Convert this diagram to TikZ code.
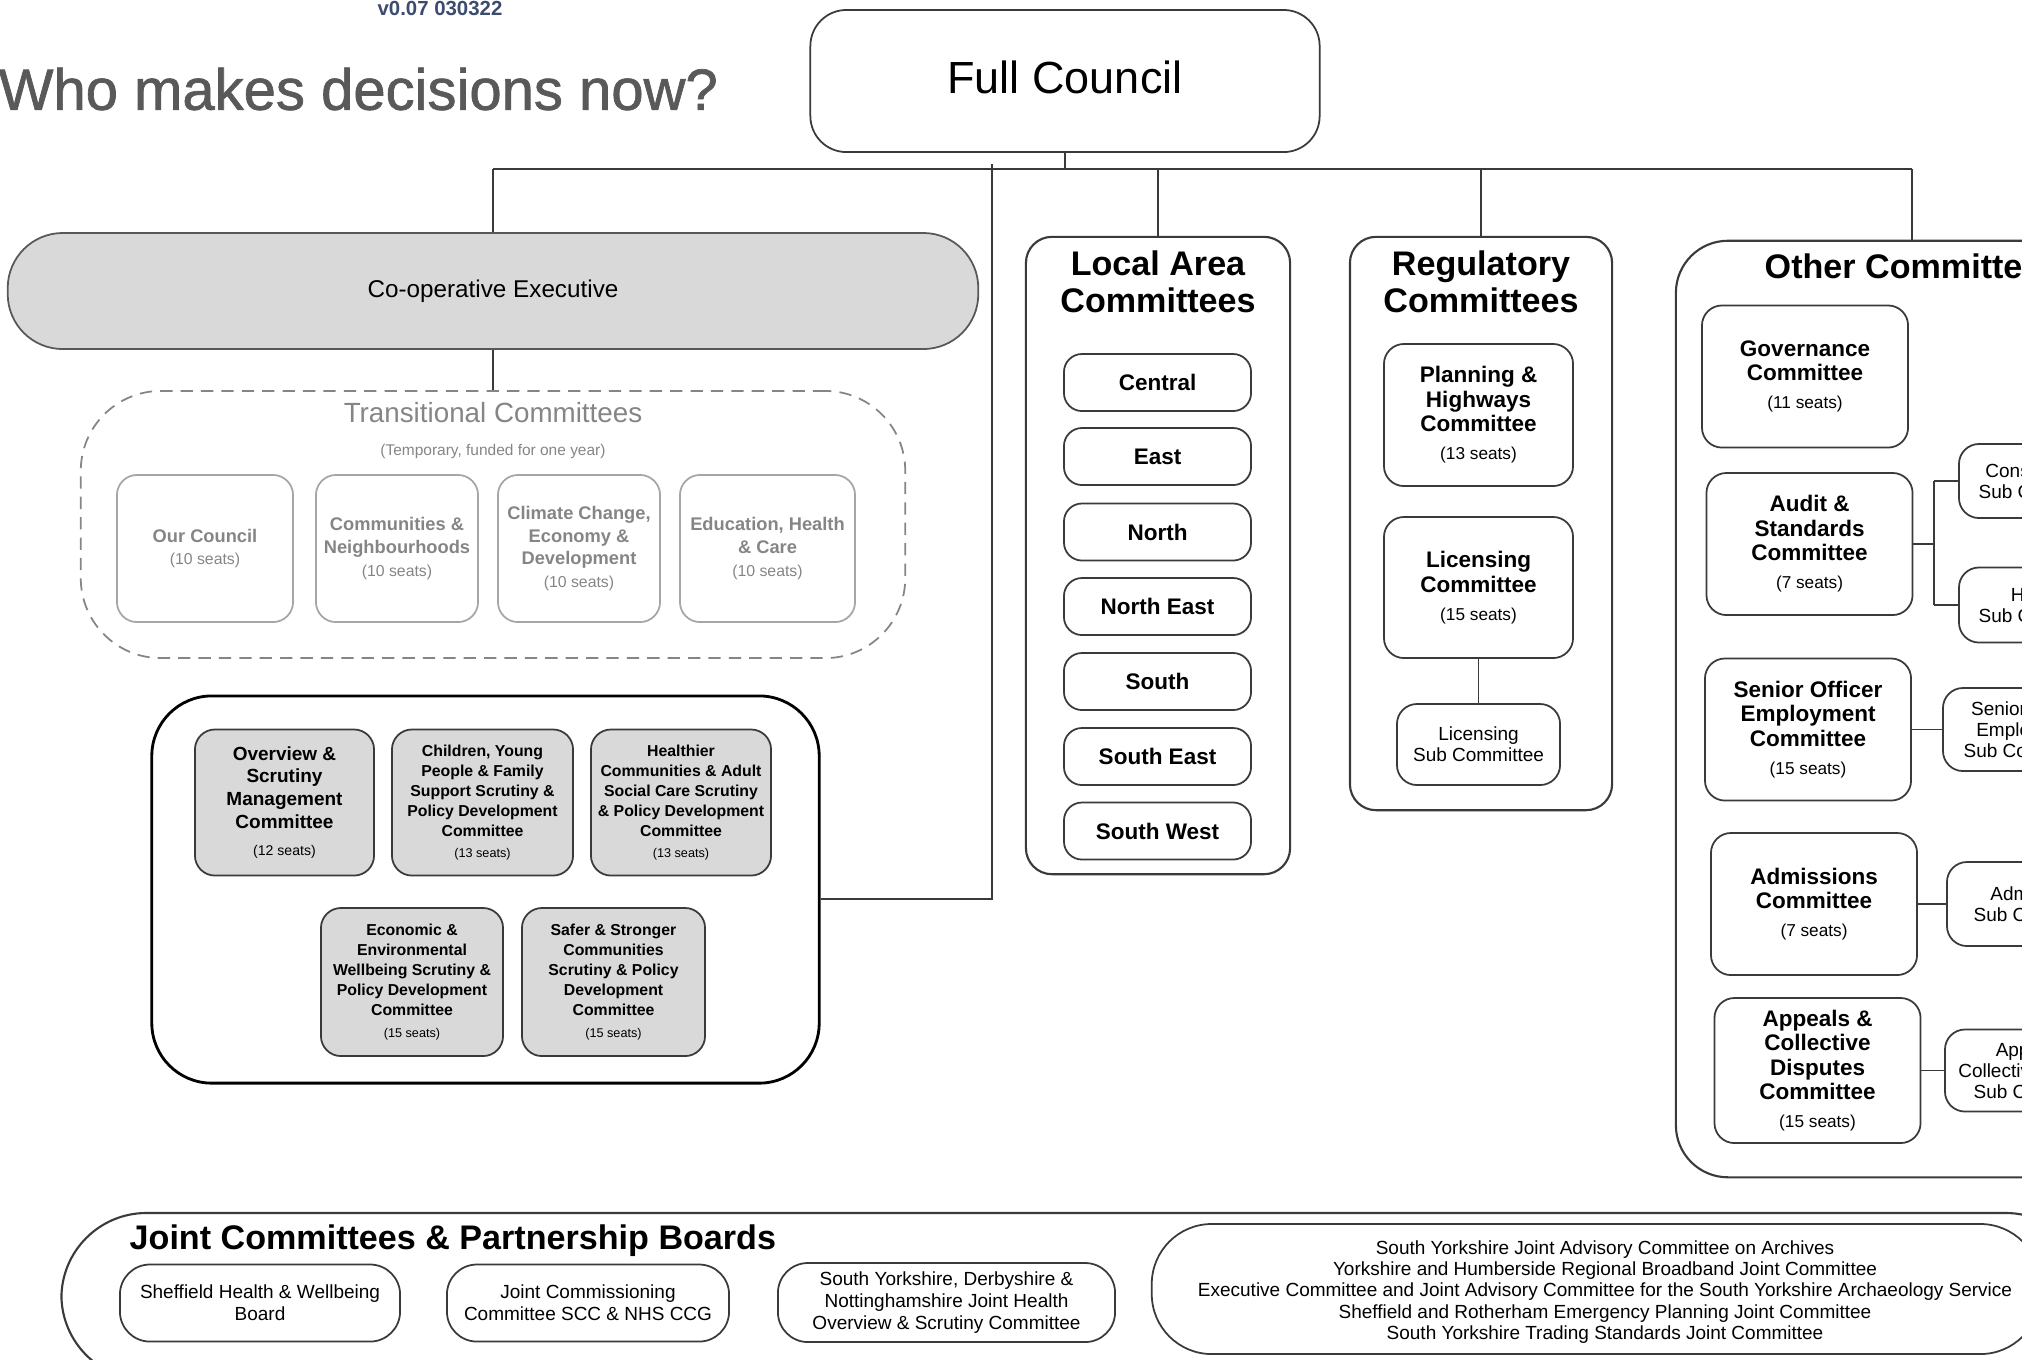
\documentclass[tikz,border=0pt]{standalone}
\usepackage{fontspec}
\setmainfont{Liberation Sans}
\newfontfamily\titlefont[FakeBold=1.2]{Liberation Sans}
\definecolor{ln}{HTML}{3A3A3A}
\definecolor{gfill}{HTML}{D9D9D9}
\definecolor{tgray}{HTML}{858585}
\definecolor{tbord}{HTML}{A6A6A6}
\definecolor{titlegray}{HTML}{595959}
\definecolor{vblue}{HTML}{3C4B6E}
\newcommand{\fs}[2]{\fontsize{#1}{#2}\selectfont}
\newcommand{\seatsA}[1]{\\[1pt]{\mdseries\fs{4.9}{5.5}(#1 seats)}}
\begin{document}
\begin{tikzpicture}[x=0.01cm,y=-0.01cm,
  conn/.style={draw=ln, line width=0.45pt},
  cbox/.style={draw=ln, line width=0.5pt, align=center, inner sep=0pt, text=black},
  fcbox/.style={cbox, rounded corners=0.36cm, minimum width=5.09cm, minimum height=1.42cm, font=\fs{12.8}{15}},
  coopbox/.style={draw=ln!85, fill=gfill, line width=0.5pt, rounded corners=0.55cm, minimum width=9.70cm, minimum height=1.16cm, inner sep=0pt, font=\fs{6.9}{8}},
  dashbox/.style={draw=tgray, line width=0.5pt, dash pattern=on 3.5pt off 2.3pt, rounded corners=0.8cm, inner sep=0pt},
  tbox/.style={draw=tbord, line width=0.5pt, rounded corners=0.2cm, minimum height=1.47cm, align=center, text=tgray, font=\bfseries\fs{5.2}{6.5}, inner sep=0pt},
  scrbox/.style={draw=black, line width=0.8pt, rounded corners=0.6cm, inner sep=0pt},
  sbox/.style={draw=ln, fill=gfill, line width=0.5pt, rounded corners=0.2cm, minimum height=1.46cm, align=center, inner sep=0pt, font=\bfseries\fs{4.5}{5.7}},
  grpbox/.style={draw=ln, line width=0.6pt, rounded corners=0.26cm, inner sep=0pt},
  grptitle/.style={font=\bfseries\fs{9.7}{10.5}, align=center, inner sep=0pt},
  areabox/.style={cbox, rounded corners=0.18cm, minimum width=1.87cm, minimum height=0.57cm, font=\bfseries\fs{6.4}{7}},
  cbig/.style={cbox, rounded corners=0.2cm, font=\bfseries\fs{6.4}{6.95}, minimum width=2.06cm, minimum height=1.42cm},
  subbox/.style={cbox, rounded corners=0.2cm, font=\fs{5.4}{6}},
  jbox/.style={cbox, rounded corners=0.3cm, font=\fs{5.4}{6.2}, minimum height=0.77cm}
]
\useasboundingbox (0,0) rectangle (2022,1359);
\clip (0,0) rectangle (2022,1359);

% header
\node[font=\bfseries\fs{5.8}{7}, text=vblue, inner sep=0pt] (ver) at (440,8) {v0.07 030322};
\node[anchor=west, inner sep=0pt, font=\titlefont\fs{16.5}{20}, text=titlegray] (title) at (-2,89) {Who makes decisions now?};

% full council and bus
\node[fcbox] (fc) at (1065,81) {\raisebox{2pt}{Full Council}};
\coordinate (bj) at (1065,169);
\coordinate (busL) at (493,169);
\coordinate (busR) at (1912,169);
\coordinate (busS) at (992,164);
\coordinate (busLA) at (1158,169);
\coordinate (busRG) at (1481,169);
\draw[conn] (fc.south) -- (bj);
\draw[conn] (busL) -- (busR);

% co-operative executive and transitional
\node[coopbox] (coop) at (493,291) {Co-operative Executive};
\node[dashbox, minimum width=8.24cm, minimum height=2.67cm] (trans) at (493,524.5) {};
\node[font=\fs{7.9}{9}, text=tgray, inner sep=0pt] (transT) at (493,413) {Transitional Committees};
\node[font=\fs{4.4}{5}, text=tgray, inner sep=0pt] (transS) at (493,451) {(Temporary, funded for one year)};
\draw[conn] (busL) -- (coop.north);
\draw[conn] (coop.south) -- (trans.north);

\node[tbox, minimum width=1.76cm] (t1) at (205,548.5) {Our Council\\{\mdseries\fs{4.5}{5}(10 seats)}};
\node[tbox, minimum width=1.62cm] (t2) at (397,548.5) {Communities \&\\Neighbourhoods\\{\mdseries\fs{4.5}{5}(10 seats)}};
\node[tbox, minimum width=1.62cm] (t3) at (579,548.5) {Climate Change,\\Economy \&\\Development\\{\mdseries\fs{4.5}{5}(10 seats)}};
\node[tbox, minimum width=1.75cm] (t4) at (767.5,548.5) {Education, Health\\\& Care\\{\mdseries\fs{4.5}{5}(10 seats)}};

% scrutiny
\node[scrbox, minimum width=6.67cm, minimum height=3.87cm] (scr) at (485.5,889.5) {};
\node[sbox, minimum width=1.79cm, font=\bfseries\fs{5.4}{6.5}] (s1) at (284.5,802.5) {Overview \&\\Scrutiny\\Management\\Committee\\[1.2pt]{\mdseries\fs{4}{5}(12 seats)}};
\node[sbox, minimum width=1.81cm] (s2) at (482.5,802.5) {Children, Young\\People \& Family\\Support Scrutiny \&\\Policy Development\\Committee\\[0.3pt]{\mdseries\fs{3.6}{4}(13 seats)}};
\node[sbox, minimum width=1.80cm] (s3) at (681,802.5) {Healthier\\Communities \& Adult\\Social Care Scrutiny\\\& Policy Development\\Committee\\[0.3pt]{\mdseries\fs{3.6}{4}(13 seats)}};
\node[sbox, minimum width=1.82cm, minimum height=1.48cm] (s4) at (412,982) {Economic \&\\Environmental\\Wellbeing Scrutiny \&\\Policy Development\\Committee\\[0.3pt]{\mdseries\fs{3.6}{4}(15 seats)}};
\node[sbox, minimum width=1.83cm, minimum height=1.48cm] (s5) at (613.5,982) {Safer \& Stronger\\Communities\\Scrutiny \& Policy\\Development\\Committee\\[0.3pt]{\mdseries\fs{3.6}{4}(15 seats)}};
\coordinate (sk) at (992,899);
\draw[conn] (busS) -- (sk) -- (sk -| scr.east);

% local area committees
\node[grpbox, minimum width=2.64cm, minimum height=6.37cm] (lac) at (1158,555.5) {};
\node[grptitle] (lacT) at (1158,281.5) {Local Area\\Committees};
\draw[conn] (busLA) -- (lac.north);
\node[areabox] (a1) at (1157.5,382.5) {Central};
\node[areabox] (a2) at (1157.5,456.5) {East};
\node[areabox] (a3) at (1157.5,532) {North};
\node[areabox] (a4) at (1157.5,606.5) {North East};
\node[areabox] (a5) at (1157.5,681.5) {South};
\node[areabox] (a6) at (1157.5,756.5) {South East};
\node[areabox] (a7) at (1157.5,831) {South West};

% regulatory committees
\node[grpbox, minimum width=2.62cm, minimum height=5.73cm] (reg) at (1481,523.5) {};
\node[grptitle] (regT) at (1481,281.5) {Regulatory\\Committees};
\draw[conn] (busRG) -- (reg.north);
\node[cbig, minimum width=1.89cm] (plan) at (1478.5,415) {Planning \&\\Highways\\Committee\seatsA{13}};
\node[cbig, minimum width=1.89cm, minimum height=1.41cm] (lic) at (1478.5,587.5) {Licensing\\Committee\seatsA{15}};
\node[subbox, minimum width=1.63cm, minimum height=0.81cm] (lsub) at (1478.5,744.5) {Licensing\\Sub Committee};
\draw[conn] (lic) -- (lsub);

% other committees
\node[grpbox, rounded corners=0.52cm, minimum width=4.14cm, minimum height=9.36cm] (oc) at (1883,709) {};
\node[font=\bfseries\fs{9.7}{10.5}, anchor=west, inner sep=0pt] (ocT) at (1764,266) {Other Committees};
\draw[conn] (busR) -- (busR |- oc.north);
\node[cbig] (gov) at (1805,376.5) {Governance\\Committee\seatsA{11}};
\node[cbig] (aud) at (1809.5,544) {Audit \&\\Standards\\Committee\seatsA{7}};
\node[subbox, minimum width=1.70cm, minimum height=0.74cm] (cons) at (2044,481) {Consideration\\Sub Committee};
\node[subbox, minimum width=1.70cm, minimum height=0.75cm] (hear) at (2044,605) {Hearing\\Sub Committee};
\coordinate (aj) at (1934,544);
\draw[conn] (aud.east) -- (aj);
\draw[conn] (aj |- cons.west) -- (aj |- hear.west);
\draw[conn] (aj |- cons.west) -- (cons.west);
\draw[conn] (aj |- hear.west) -- (hear.west);
\node[cbig] (sen) at (1808,729.5) {Senior Officer\\Employment\\Committee\seatsA{15}};
\node[subbox, minimum width=1.72cm, minimum height=0.83cm] (sensub) at (2029,729.5) {Senior Officer\\Employment\\Sub Committee};
\draw[conn] (sen.east) -- (sensub.west);
\node[cbig] (adm) at (1814,904) {Admissions\\Committee\seatsA{7}};
\node[subbox, minimum width=1.84cm, minimum height=0.84cm] (admsub) at (2039,904) {Admissions\\Sub Committee};
\draw[conn] (adm.east) -- (admsub.west);
\node[cbig, minimum height=1.45cm] (app) at (1817.5,1070.5) {Appeals \&\\Collective\\Disputes\\Committee\seatsA{15}};
\node[subbox, minimum width=1.88cm, minimum height=0.82cm] (appsub) at (2039,1070.5) {Appeals \&\\Collective Disputes\\Sub Committee};
\draw[conn] (app.east) -- (appsub.west);

% joint committees
\node[grpbox, rounded corners=0.85cm, minimum width=20.28cm, minimum height=1.67cm] (jc) at (1076,1296.5) {};
\node[font=\bfseries\fs{9.7}{10.5}, anchor=west, inner sep=0pt] (jcT) at (129,1241) {Joint Committees \& Partnership Boards};
\node[jbox, minimum width=2.80cm] (j1) at (260,1303) {Sheffield Health \& Wellbeing\\Board};
\node[jbox, minimum width=2.82cm] (j2) at (588,1303) {Joint Commissioning\\Committee SCC \& NHS CCG};
\node[jbox, minimum width=3.37cm, minimum height=0.79cm] (j3) at (946.5,1302.5) {South Yorkshire, Derbyshire \&\\Nottinghamshire Joint Health\\Overview \& Scrutiny Committee};
\node[jbox, rounded corners=0.6cm, minimum width=8.88cm, minimum height=1.30cm] (j4) at (1596,1289) {};
\node[font=\fs{5.4}{6}, align=center, inner sep=0pt] (j4t) at (1605,1292) {South Yorkshire Joint Advisory Committee on Archives\\Yorkshire and Humberside Regional Broadband Joint Committee\\Executive Committee and Joint Advisory Committee for the South Yorkshire Archaeology Service\\Sheffield and Rotherham Emergency Planning Joint Committee\\South Yorkshire Trading Standards Joint Committee};
\end{tikzpicture}
\end{document}
